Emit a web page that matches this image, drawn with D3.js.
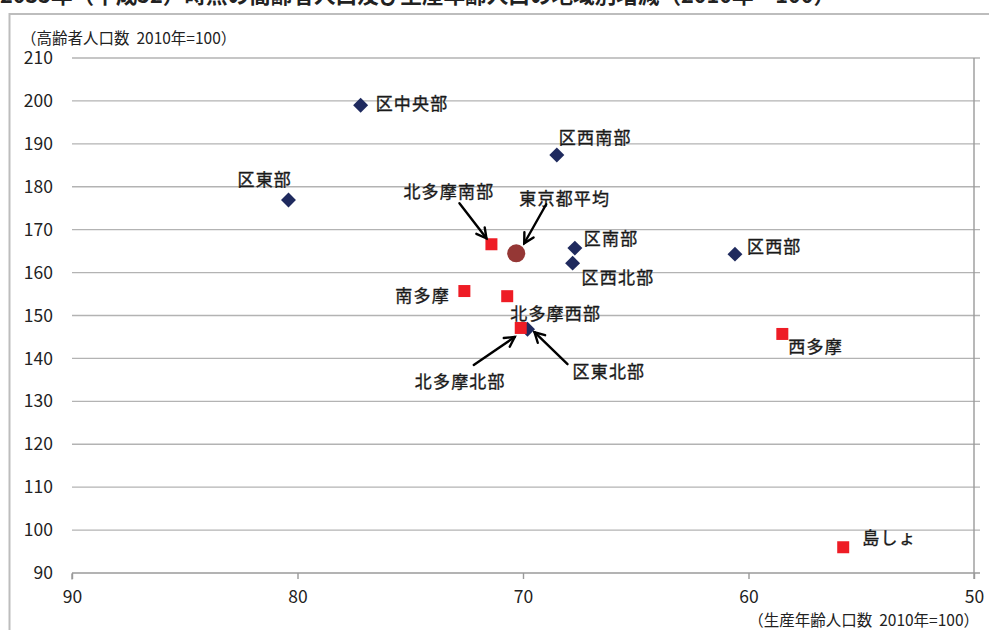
<!DOCTYPE html>
<html><head><meta charset="utf-8">
<script src="https://cdn.jsdelivr.net/npm/d3@7"></script>
<style>
html,body{margin:0;padding:0;background:#fff;overflow:hidden}
text{font-family:"Noto Sans CJK JP","Noto Sans",sans-serif;white-space:pre}
</style></head>
<body>
<svg id="c" width="989" height="630"></svg>
<script>
// ---- data ----
const title = "2035年（平成52）時点の高齢者人口及び生産年齢人口の地域別増減（2010年＝100）";
const yAxisTitle = "（高齢者人口数\u00a0\u00a02010年=100）";
const xAxisTitle = "（生産年齢人口数\u00a0\u00a02010年=100）";
const xTicks = [90, 80, 70, 60, 50];
const yTicks = [90, 100, 110, 120, 130, 140, 150, 160, 170, 180, 190, 200, 210];

const kuNames = ["区中央部", "区西南部", "区東部", "区南部", "区西北部", "区西部", "区東北部"];
const kuX = [77.2, 68.5, 80.4, 67.7, 67.8, 60.6, 69.8];
const kuY = [199.0, 187.4, 176.9, 165.7, 162.2, 164.3, 146.8];

const tamaNames = ["北多摩南部", "南多摩", "北多摩西部", "北多摩北部", "西多摩", "島しょ"];
const tamaX = [71.4, 72.6, 70.7, 70.1, 58.5, 55.8];
const tamaY = [166.6, 155.7, 154.5, 147.1, 145.7, 96.0];

const avgName = ["東京都平均"];
const avgX = [70.3];
const avgY = [164.5];

// ---- layout (label offsets in px from the mark) ----
const labelOffset = {
  "区中央部": [15, -3], "区西南部": [2, -18], "区東部": [-51, -22], "区南部": [9, -11],
  "区西北部": [9, 13], "区西部": [12, -9], "区東北部": [45, 41],
  "北多摩南部": [-88, -54], "南多摩": [-69, 3], "北多摩西部": [3, 16], "北多摩北部": [-106, 53],
  "西多摩": [6, 12], "島しょ": [19, -11], "東京都平均": [3, -56]
};
const arrowOffset = {
  "北多摩南部": [[-32, -41], [-5, -6]],
  "東京都平均": [[30, -49], [8, -10]],
  "北多摩北部": [[-47, 37], [-6, 9]],
  "区東北部": [[40, 35], [7, 3]]
};

const svg = d3.select("#c");
const L = 72, R = 974, T = 58, B = 573;
const x = d3.scaleLinear().domain([90, 50]).range([L, R]);
const y = d3.scaleLinear().domain([90, 210]).range([B, T]);

// outer frame
svg.append("rect").attr("x", 9.5).attr("y", 14).attr("width", 1000).attr("height", 640)
  .attr("fill", "none").attr("stroke", "#bdbdbd").attr("stroke-width", 2);

// title (cut at top, as in the reference)
svg.append("text").attr("x", 0).attr("y", 3).attr("font-size", 22).attr("font-weight", "bold")
  .attr("fill", "#222").attr("textLength", 835).attr("lengthAdjust", "spacingAndGlyphs").text(title);

// gridlines
svg.append("g").selectAll("line").data(yTicks.filter(d => d > 90)).join("line")
  .attr("x1", L).attr("x2", R + 6).attr("y1", d => y(d)).attr("y2", d => y(d))
  .attr("stroke", "#b3b3b3").attr("stroke-width", 1.4);

// y axis on right (reversed x axis) - line only
svg.append("line").attr("x1", R).attr("x2", R).attr("y1", T).attr("y2", B + 6)
  .attr("stroke", "#9a9a9a").attr("stroke-width", 1.4);

// x axis
const xa = svg.append("g").attr("transform", `translate(0,${B})`)
  .call(d3.axisBottom(x).tickValues(xTicks).tickSize(6).tickSizeOuter(0).tickFormat(d3.format("d")));
xa.select(".domain").attr("stroke", "#9a9a9a").attr("stroke-width", 1.6).attr("d", `M${L},0H${R + 6}`);
xa.selectAll(".tick line").attr("stroke", "#9a9a9a").attr("stroke-width", 1.4);
xa.selectAll(".tick text").attr("font-family", "'Open Sans',sans-serif").attr("font-size", 17.5)
  .attr("fill", "#222").attr("dy", 0).attr("y", 30);

// y tick labels
const ya = svg.append("g").attr("transform", `translate(${L},0)`)
  .call(d3.axisLeft(y).tickValues(yTicks).tickSize(0).tickPadding(19).tickFormat(d3.format("d")));
ya.select(".domain").remove();
ya.selectAll(".tick text").attr("font-family", "'Open Sans',sans-serif").attr("font-size", 17.5).attr("fill", "#222");
ya.selectAll(".tick").filter(d => d === 90).append("line").attr("x1", 0).attr("x2", 0).attr("y1", 0).attr("y2", 6)
  .attr("stroke", "#9a9a9a").attr("stroke-width", 1.4);

// axis titles
svg.append("text").attr("x", 21).attr("y", 37).attr("dominant-baseline", "central")
  .attr("font-size", 15.5).attr("fill", "#222").text(yAxisTitle);
svg.append("text").attr("x", 979).attr("y", 619).attr("dominant-baseline", "central").attr("text-anchor", "end")
  .attr("font-size", 15.5).attr("fill", "#222").text(xAxisTitle);

// marks
const ku = kuNames.map((n, i) => ({ n, x: kuX[i], y: kuY[i] }));
const tama = tamaNames.map((n, i) => ({ n, x: tamaX[i], y: tamaY[i] }));
const avg = avgName.map((n, i) => ({ n, x: avgX[i], y: avgY[i] }));

svg.append("g").selectAll("path").data(ku).join("path")
  .attr("d", d3.symbol(d3.symbolSquare, 112))
  .attr("transform", d => `translate(${x(d.x)},${y(d.y)}) rotate(45)`)
  .attr("fill", "#1f2a5e");

svg.append("g").selectAll("path").data(tama).join("path")
  .attr("d", d3.symbol(d3.symbolSquare, 144))
  .attr("transform", d => `translate(${x(d.x)},${y(d.y)})`)
  .attr("fill", "#ee1c25");

svg.append("g").selectAll("circle").data(avg).join("circle")
  .attr("cx", d => x(d.x)).attr("cy", d => y(d.y)).attr("r", 9).attr("fill", "#953735");

// labels
const all = ku.concat(tama, avg);
svg.append("g").selectAll("text").data(all).join("text")
  .attr("x", d => x(d.x) + labelOffset[d.n][0])
  .attr("y", d => y(d.y) + labelOffset[d.n][1])
  .attr("dominant-baseline", "central")
  .attr("font-size", 17).attr("letter-spacing", 1.2).attr("fill", "#1a1a1a")
  .attr("stroke", "#1a1a1a").attr("stroke-width", 0.35).text(d => d.n);

// arrows
const ag = svg.append("g").attr("stroke", "#000").attr("stroke-width", 2.4).attr("fill", "none")
  .attr("stroke-linecap", "round");
all.filter(d => arrowOffset[d.n]).forEach(d => {
  const [s, e] = arrowOffset[d.n];
  const x1 = x(d.x) + s[0], y1 = y(d.y) + s[1], x2 = x(d.x) + e[0], y2 = y(d.y) + e[1];
  ag.append("line").attr("x1", x1).attr("y1", y1).attr("x2", x2).attr("y2", y2);
  const a = Math.atan2(y2 - y1, x2 - x1), h = 11, w = 0.5;
  ag.append("path").attr("d",
    `M${x2 - h * Math.cos(a - w)},${y2 - h * Math.sin(a - w)}L${x2},${y2}L${x2 - h * Math.cos(a + w)},${y2 - h * Math.sin(a + w)}`);
});
</script>
</body></html>
